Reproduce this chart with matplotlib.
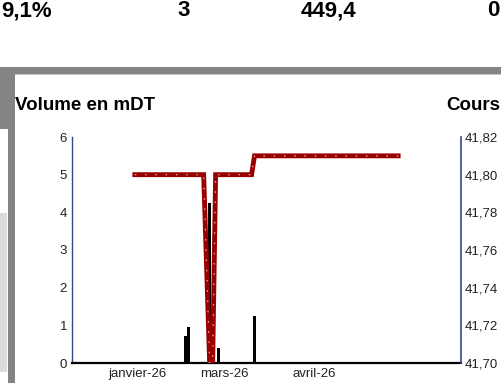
import matplotlib
matplotlib.use('Agg')
import matplotlib.pyplot as plt
from matplotlib.patches import Rectangle
from matplotlib.ticker import FuncFormatter

plt.rcParams['font.family'] = ['Liberation Sans', 'DejaVu Sans']

# === Données (index de séance) ===
seances_cours = [21, 44, 46, 47, 48, 60, 61, 109]
cours = [41.80, 41.80, 41.70, 41.70, 41.80, 41.80, 41.81, 41.81]

seances_volume = [38, 39, 46, 49, 61]
volumes = [0.72, 0.95, 4.24, 0.40, 1.25]  # en mDT

ticks_x = [22, 51, 81]
labels_x = ["janvier-26", "mars-26", "avril-26"]

valeurs_haut = ["9,1%", "3", "449,4", "0"]

W, H = 501, 383
fig = plt.figure(figsize=(W / 100, H / 100), dpi=100)

def px_rect(x0, y0, x1, y1, color):
    # rectangle en pixels (origine en haut à gauche)
    fig.patches.append(Rectangle((x0 / W, 1 - y1 / H), (x1 - x0) / W, (y1 - y0) / H,
                                 transform=fig.transFigure, color=color, lw=0, zorder=0))

# cadre gris de la page
px_rect(0, 67, 501, 74, '#848484')
px_rect(0, 74, 501, 75, '#c8c8c8')
px_rect(0, 67, 8, 129, '#848484')
px_rect(8, 67, 15, 383, '#848484')
px_rect(0, 213, 7, 372, '#dcdcdc')

# ligne de chiffres en haut
fig.text(1 / W, 1 - 11 / H, valeurs_haut[0], ha='left', va='center', fontsize=16, fontweight='bold')
for txt, xr in zip(valeurs_haut[1:], [190, 356, 500]):
    fig.text(xr / W, 1 - 11 / H, txt, ha='right', va='center', fontsize=16, fontweight='bold')

fig.text(15 / W, 1 - 106 / H, "Volume en mDT", ha='left', va='center', fontsize=13.5, fontweight='bold')
fig.text(500 / W, 1 - 106 / H, "Cours", ha='right', va='center', fontsize=13.5, fontweight='bold')

ax = fig.add_axes([72 / W, 1 - 363 / H, 389 / W, 226 / H])
ax.set_facecolor('none')
ax.bar(seances_volume, volumes, width=0.9, color='black', zorder=2)
ax.set_xlim(0, 130)
ax.set_ylim(0, 6)
ax.set_yticks(range(0, 7))
ax.set_xticks(ticks_x)
ax.set_xticklabels(labels_x)
ax.tick_params(axis='y', length=0, pad=3.5, labelsize=9.5, labelcolor='#222222')
ax.tick_params(axis='x', length=0, pad=3.5, labelsize=9.5, labelcolor='#222222')
ax.spines['top'].set_visible(False)
ax.spines['right'].set_visible(False)
ax.spines['left'].set_color('#3a4585')
ax.spines['left'].set_linewidth(1)
ax.spines['bottom'].set_color('black')
ax.spines['bottom'].set_linewidth(1.6)

ax2 = ax.twinx()
ax2.plot(seances_cours, cours, color='#990000', lw=3.5, solid_joinstyle='miter', zorder=3)
ax2.plot(seances_cours, cours, color='#e0b0b0', lw=0.9, linestyle=(0, (1.2, 7)), zorder=4)
ax2.set_ylim(41.70, 41.82)
ax2.set_yticks([41.70, 41.72, 41.74, 41.76, 41.78, 41.80, 41.82])
ax2.yaxis.set_major_formatter(FuncFormatter(lambda v, p: f"{v:.2f}".replace('.', ',')))
ax2.tick_params(axis='y', length=0, pad=2.5, labelsize=9.5, labelcolor='#222222')
for s in ['top', 'left', 'bottom']:
    ax2.spines[s].set_visible(False)
ax2.spines['right'].set_color('#3a4585')
ax2.spines['right'].set_linewidth(1.2)

fig.savefig('out.png', dpi=100)
